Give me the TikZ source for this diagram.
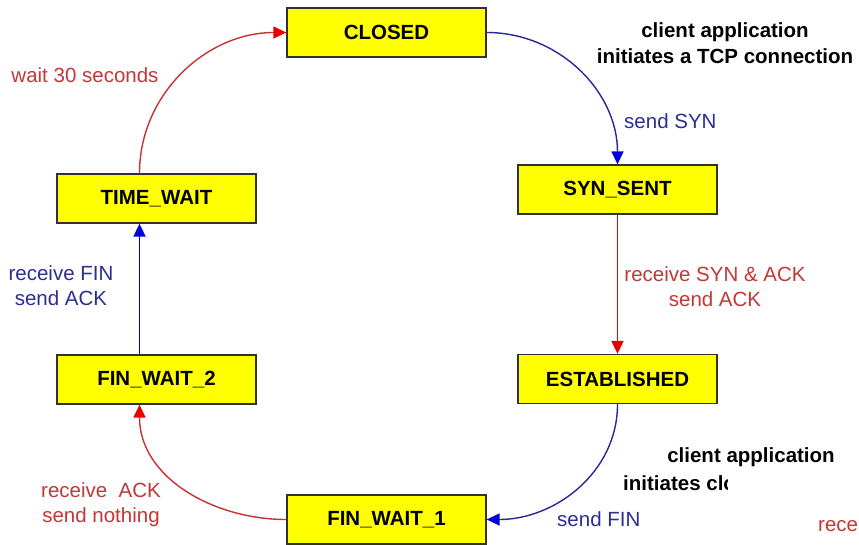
\documentclass[tikz,border=0pt]{standalone}
\usepackage{fontspec}
\setmainfont{Liberation Sans}
\usetikzlibrary{arrows.meta}
\definecolor{stateyellow}{RGB}{255,255,0}
\definecolor{navyline}{RGB}{40,40,150}
\definecolor{tipblue}{RGB}{0,0,220}
\definecolor{redline}{RGB}{200,50,50}
\definecolor{tipred}{RGB}{230,0,0}
\definecolor{bluetext}{RGB}{45,45,150}
\definecolor{redtext}{RGB}{195,55,55}
\definecolor{boxborder}{RGB}{50,50,50}
\tikzset{
  statebox/.style={draw=boxborder, line width=1.3pt, fill=stateyellow,
    minimum width=199pt, minimum height=49pt, inner sep=0pt,
    font=\fontsize{20.5}{24}\selectfont\bfseries},
  bluearrow/.style={draw=navyline, line width=1.4pt,
    -{Triangle[length=13pt,width=12pt,color=tipblue]}},
  redarrow/.style={draw=redline, line width=1.4pt,
    -{Triangle[length=13pt,width=12pt,color=tipred]}},
  bluestraight/.style={color=tipblue, line width=1.8pt,
    -{Triangle[length=13pt,width=12pt]}},
  redstraight/.style={color=tipred, line width=1.8pt,
    -{Triangle[length=13pt,width=12pt]}},
  bluelabel/.style={text=bluetext, font=\fontsize{20.5}{25}\selectfont, inner sep=0pt},
  redlabel/.style={text=redtext, font=\fontsize{20.5}{25}\selectfont, inner sep=0pt},
  notelabel/.style={text=black, font=\fontsize{20.5}{26}\selectfont\bfseries, inner sep=0pt},
}
\begin{document}
\begin{tikzpicture}[x=1pt,y=-1pt]
\clip (0,0) rectangle (859,544);
\fill[white] (0,0) rectangle (859,544);

% states
\node[statebox] (closed) at (386.5,32.5) {CLOSED};
\node[statebox] (synsent) at (617.5,189.5) {SYN\_SENT};
\node[statebox] (estab) at (617.5,379) {ESTABLISHED};
\node[statebox] (fw1) at (386.5,519.5) {FIN\_WAIT\_1};
\node[statebox] (fw2) at (156.5,379.5) {FIN\_WAIT\_2};
\node[statebox] (tw) at (156.5,198.5) {TIME\_WAIT};

\coordinate (fw2s) at ([xshift=-17pt]fw2.south);
\coordinate (fw2n) at ([xshift=-17pt]fw2.north);
\coordinate (tws) at ([xshift=-17pt]tw.south);
\coordinate (twn) at ([xshift=-17pt]tw.north);

% transitions
\draw[bluearrow] (closed.east) to[out=0,in=90] (synsent.north);
\draw[redstraight] (synsent.south) -- (estab.north);
\draw[bluestraight] (fw2n) -- (tws);
\draw[bluearrow] (estab.south) to[out=-90,in=0] (fw1.east);
\draw[redarrow] (fw1.west) to[out=180,in=-90] (fw2s);
\draw[redarrow] (twn) to[out=90,in=180] (closed.west);

% labels
\node[notelabel, align=center] (note1) at (725,43) {client application\\initiates a TCP connection};
\node[bluelabel, anchor=west] (lsyn) at (624,121) {send SYN};
\node[redlabel, align=center] (lsynack) at (715,287) {receive SYN \& ACK\\send ACK};
\node[notelabel] (note2a) at (751,457) {client application};
\begin{scope}
  \clip (600,468) rectangle (727,500);
  \node[notelabel, anchor=west] (note2b) at (623,483) {initiates close};
\end{scope}
\node[bluelabel, anchor=west] (lfin) at (557,519) {send FIN};
\node[redlabel, anchor=west] (lrece) at (818,526) {rece};
\node[redlabel, align=center] (lack) at (101,504.5) {receive\ \ ACK\\send nothing};
\node[bluelabel, align=center] (lfinack) at (61,285.5) {receive FIN\\send ACK};
\node[redlabel] (lwait) at (85,75) {wait 30 seconds};
\end{tikzpicture}
\end{document}
